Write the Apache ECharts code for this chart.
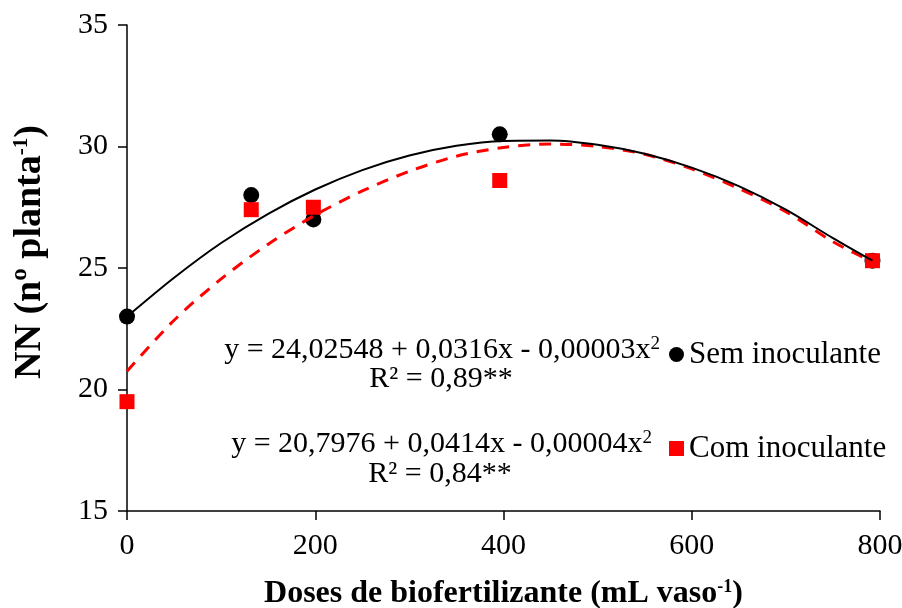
<!DOCTYPE html>
<html>
<head>
<meta charset="utf-8">
<script src="https://cdn.jsdelivr.net/npm/echarts@6/dist/echarts.min.js"></script>
<style>
  html, body { margin: 0; padding: 0; background: #fff; }
  #chart { width: 902px; height: 608px; }
</style>
</head>
<body>
<div id="chart"></div>
<script>
// doses de biofertilizante (mL vaso-1)
var doses = [0, 132, 198, 396, 792];
var semInoculante = [23.0, 28.0, 27.0, 30.5, 25.3];
var comInoculante = [19.5, 27.4, 27.5, 28.6, 25.3];

// linhas de tendencia
var curvaX = [0, 50, 100, 150, 200, 250, 300, 350, 400, 450, 500, 550, 600, 650, 700, 750, 792];
var curvaSem = [23.0, 24.6, 26.03, 27.23, 28.23, 29.03, 29.63, 30.03, 30.23, 30.25, 30.07, 29.7, 29.13, 28.37, 27.4, 26.23, 25.3];
var curvaCom = [20.75, 22.85, 24.55, 25.98, 27.18, 28.17, 28.98, 29.6, 29.96, 30.1, 30.0, 29.68, 29.08, 28.27, 27.32, 26.08, 25.25];

var xTicks = [0, 200, 400, 600, 800];
var yTicks = [15, 20, 25, 30, 35];

var fonte = 'Liberation Serif';

function pares(xs, ys) {
    return xs.map(function (x, i) { return [x, ys[i]]; });
}

var chart = echarts.init(document.getElementById('chart'));
var option = {
    animation: false,
    backgroundColor: '#fff',
    grid: {
        left: 127,
        right: 22,
        top: 25,
        bottom: 97,
        containLabel: false,
        outerBoundsMode: 'none'
    },
    legend: [
        {
            data: ['Sem inoculante'],
            left: 664,
            top: 334,
            itemWidth: 15,
            itemHeight: 15,
            textStyle: { fontFamily: fonte, fontSize: 31, color: '#000' }
        },
        {
            data: ['Com inoculante'],
            left: 664,
            top: 428,
            itemWidth: 15,
            itemHeight: 15,
            textStyle: { fontFamily: fonte, fontSize: 31, color: '#000' }
        }
    ],
    xAxis: {
        type: 'value',
        min: 0,
        max: 800,
        interval: 200,
        name: 'Doses de biofertilizante (mL vaso{s|-1})',
        nameLocation: 'middle',
        nameGap: 67,
        nameTextStyle: {
            fontFamily: fonte, fontSize: 32, fontWeight: 'bold', color: '#000',
            rich: {
                s: { fontFamily: fonte, fontSize: 18, fontWeight: 'bold', color: '#000', verticalAlign: 'top', padding: [0, 0, 12, 0] }
            }
        },
        splitLine: { show: false },
        axisLine: { lineStyle: { color: '#000', width: 1.5 } },
        axisTick: { show: true, length: 9, lineStyle: { color: '#000', width: 1.5 } },
        axisLabel: {
            fontFamily: fonte, fontSize: 30, color: '#000', margin: 20,
            customValues: xTicks
        }
    },
    yAxis: {
        type: 'value',
        min: 15,
        max: 35,
        interval: 5,
        name: 'NN (nº planta{s|-1})',
        nameLocation: 'middle',
        nameGap: 78,
        nameTextStyle: {
            fontFamily: fonte, fontSize: 38, fontWeight: 'bold', color: '#000',
            padding: [0, 0, 0, 32],
            rich: {
                s: { fontFamily: fonte, fontSize: 21, fontWeight: 'bold', color: '#000', verticalAlign: 'top', padding: [0, 0, 14, 0] }
            }
        },
        splitLine: { show: false },
        axisLine: { show: true, lineStyle: { color: '#000', width: 1.5 } },
        axisTick: { show: true, length: 9, lineStyle: { color: '#000', width: 1.5 } },
        axisLabel: {
            fontFamily: fonte, fontSize: 30, color: '#000', margin: 19,
            customValues: yTicks
        }
    },
    graphic: [
        {
            type: 'text', x: 660, y: 350,
            style: {
                text: 'y = 24,02548 + 0,0316x - 0,00003x{s|2}',
                fontFamily: fonte, fontSize: 30, fill: '#000',
                align: 'right', verticalAlign: 'middle',
                rich: { s: { fontFamily: fonte, fontSize: 19, fill: '#000', verticalAlign: 'top', padding: [0, 0, 12, 0] } }
            }
        },
        {
            type: 'text', x: 441, y: 379,
            style: {
                text: 'R² = 0,89**',
                fontFamily: fonte, fontSize: 30, fill: '#000',
                align: 'center', verticalAlign: 'middle'
            }
        },
        {
            type: 'text', x: 652, y: 444,
            style: {
                text: 'y = 20,7976 + 0,0414x - 0,00004x{s|2}',
                fontFamily: fonte, fontSize: 30, fill: '#000',
                align: 'right', verticalAlign: 'middle',
                rich: { s: { fontFamily: fonte, fontSize: 19, fill: '#000', verticalAlign: 'top', padding: [0, 0, 12, 0] } }
            }
        },
        {
            type: 'text', x: 440, y: 474,
            style: {
                text: 'R² = 0,84**',
                fontFamily: fonte, fontSize: 30, fill: '#000',
                align: 'center', verticalAlign: 'middle'
            }
        }
    ],
    series: [
        {
            name: 'Sem inoculante',
            type: 'scatter',
            symbol: 'circle',
            symbolSize: 16,
            itemStyle: { color: '#000', opacity: 1 },
            data: pares(doses, semInoculante)
        },
        {
            name: 'Com inoculante',
            type: 'scatter',
            symbol: 'rect',
            symbolSize: 15,
            itemStyle: { color: '#ff0000', opacity: 1 },
            data: pares(doses, comInoculante)
        },
        {
            name: 'curva com',
            type: 'line',
            smooth: 0.3,
            symbol: 'none',
            lineStyle: { color: '#ff0000', width: 3, type: [12, 9] },
            data: pares(curvaX, curvaCom)
        },
        {
            name: 'curva sem',
            type: 'line',
            smooth: 0.3,
            symbol: 'none',
            lineStyle: { color: '#000', width: 2 },
            data: pares(curvaX, curvaSem)
        }
    ]
};
chart.setOption(option);
</script>
</body>
</html>
